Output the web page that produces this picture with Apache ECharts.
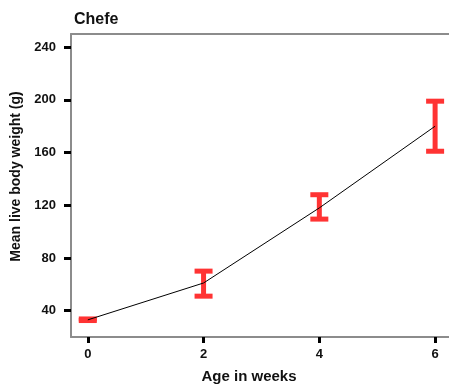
<!DOCTYPE html>
<html><head><meta charset="utf-8">
<script src="https://cdn.jsdelivr.net/npm/echarts@6/dist/echarts.min.js"></script>
<style>html,body{margin:0;padding:0;background:#fff}#c{width:449px;height:389px}</style>
</head><body><div id="c"></div>
<script>
const weeks = [0, 2, 4, 6];
const meanWeight = [33, 61, 118, 180];
const lowerErr = [32.5, 51, 109.5, 161];
const upperErr = [33.7, 70, 128, 199];
const xTicks = [0, 2, 4, 6];
const yTicks = [40, 80, 120, 160, 200, 240];

const font = 'Liberation Sans, Arial, sans-serif';
const chart = echarts.init(document.getElementById('c'));
const errData = weeks.map((w, i) => [w, lowerErr[i], upperErr[i]]);
chart.setOption({
  animation: false,
  title: {text: 'Chefe', left: 69, top: 7, textStyle: {fontFamily: font, fontSize: 16, fontWeight: 'bold', color: '#111'}},
  grid: {left: 71, top: 34, right: 0, bottom: 52},
  xAxis: [{
    type: 'value', min: -0.29, max: 6.24,
    name: 'Age in weeks', nameLocation: 'middle', nameGap: 32,
    nameTextStyle: {fontFamily: font, fontSize: 15, fontWeight: 'bold', color: '#111', padding: [0, 22, 0, 0]},
    axisLine: {show: true, onZero: false, lineStyle: {color: '#8c8c8c', width: 2}},
    axisTick: {show: true, customValues: xTicks, length: 6, lineStyle: {color: '#000', width: 3}},
    axisLabel: {customValues: xTicks, fontFamily: font, fontSize: 13, fontWeight: 'bold', color: '#111', margin: 11},
    splitLine: {show: false}
  }, {
    type: 'value', position: 'top', min: -0.29, max: 6.24,
    axisLine: {show: true, lineStyle: {color: '#8c8c8c', width: 2}},
    axisTick: {show: false}, axisLabel: {show: false}, splitLine: {show: false}
  }],
  yAxis: {
    type: 'value', min: 20, max: 250,
    name: 'Mean live body weight (g)', nameLocation: 'middle', nameGap: 46,
    nameTextStyle: {fontFamily: font, fontSize: 14, fontWeight: 'bold', color: '#111', padding: [0, 0, 0, 18]},
    axisLine: {show: true, onZero: false, lineStyle: {color: '#8c8c8c', width: 2}},
    axisTick: {show: true, customValues: yTicks, length: 7, lineStyle: {color: '#000', width: 3}},
    axisLabel: {customValues: yTicks, fontFamily: font, fontSize: 13, fontWeight: 'bold', color: '#111', margin: 15},
    splitLine: {show: false}
  },
  series: [{
    type: 'custom',
    data: errData,
    z: 2,
    renderItem: function (params, api) {
      const x = api.value(0);
      const lo = api.coord([x, api.value(1)]);
      const hi = api.coord([x, api.value(2)]);
      const cw = 9, ct = 5, sw = 5;
      const color = '#ff3333';
      return {type: 'group', children: [
        {type: 'rect', shape: {x: lo[0] - sw / 2, y: hi[1], width: sw, height: lo[1] - hi[1]}, style: {fill: color}},
        {type: 'rect', shape: {x: hi[0] - cw, y: hi[1] - ct / 2, width: cw * 2, height: ct}, style: {fill: color}},
        {type: 'rect', shape: {x: lo[0] - cw, y: lo[1] - ct / 2, width: cw * 2, height: ct}, style: {fill: color}}
      ]};
    }
  }, {
    type: 'line',
    data: weeks.map((w, i) => [w, meanWeight[i]]),
    showSymbol: false, symbol: 'none', z: 3,
    lineStyle: {color: '#000', width: 1}
  }]
});
</script></body></html>
